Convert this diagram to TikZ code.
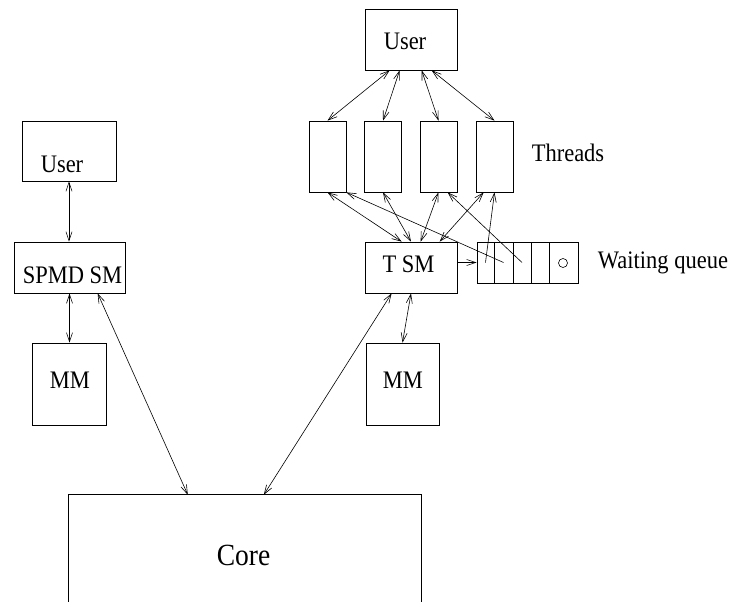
\documentclass[tikz,border=0pt]{standalone}
\usepackage{fontspec}
\setmainfont{Liberation Serif}
\usepackage{graphicx}
\usetikzlibrary{arrows.meta}
\newcommand\vstretch[1]{\scalebox{1}[1.12]{#1}}
\begin{document}
\begin{tikzpicture}[x=1pt,y=-1pt,
  box/.style args={#1/#2}{draw,line width=0.7pt,inner sep=0pt,minimum width=#1pt,minimum height=#2pt},
  >={Straight Barb[length=9pt,width=6pt]},
  bi/.style={line width=0.6pt,<->},
  one/.style={line width=0.6pt,->},
  lbl/.style={anchor=base,inner sep=0pt,font=\rmfamily\fontsize{22.5}{27}\selectfont},
  biglbl/.style={anchor=base,inner sep=0pt,font=\rmfamily\fontsize{27.5}{33}\selectfont}]
\useasboundingbox (0,0) rectangle (729,602);
% right column
\node[box=92/61] (U2) at (411,39.5) {};
\node[box=37/71] (T1) at (327.5,156.5) {};
\node[box=37/71] (T2) at (383,156.5) {};
\node[box=37/71] (T3) at (438.5,156.5) {};
\node[box=37/71] (T4) at (494.5,156.5) {};
\node[box=92/51] (TS) at (411,267.5) {};
\node[box=73/82] (MM2) at (402.5,384) {};
% waiting queue cells
\node[box=17/41] (C1) at (485.5,262.5) {};
\node[box=19/41] (C2) at (503.5,262.5) {};
\node[box=18/41] (C3) at (522,262.5) {};
\node[box=18/41] (C4) at (540,262.5) {};
\node[box=29/41] (C5) at (563.5,262.5) {};
\node[circle,draw,line width=0.6pt,minimum size=9pt,inner sep=0pt] (O) at (563,263) {};
% left column
\node[box=94/60] (U1) at (69,151) {};
\node[box=111/51] (SP) at (69.5,267.5) {};
\node[box=74/82] (MM1) at (69,384) {};
% core
\node[inner sep=0pt,minimum width=352pt,minimum height=107pt] (Core) at (245,548.5) {};
\draw[line width=0.7pt] (Core.south west) |- (Core.north east) -- (Core.south east);
% labels
\node[lbl] (tU2) at (405,50) {\vstretch{User}};
\node[lbl] (tU1) at (62,172) {\vstretch{User}};
\node[lbl] (tSP) at (72.5,283) {\vstretch{SPMD SM}};
\node[lbl] (tMM1) at (70,388) {\vstretch{MM}};
\node[lbl] (tMM2) at (403,388) {\vstretch{MM}};
\node[lbl] (tTS) at (408.5,272) {\vstretch{T SM}};
\node[lbl] (tTh) at (568,161.5) {\vstretch{Threads}};
\node[lbl] (tWQ) at (663,268) {\vstretch{Waiting queue}};
\node[biglbl] (tCore) at (243.5,565) {\vstretch{Core}};
% connectors
\draw[bi] ([xshift=25pt]U2.south west) -- (T1.north);
\draw[bi] ([xshift=35pt]U2.south west) -- (T2.north);
\draw[bi] ([xshift=57pt]U2.south west) -- (T3.north);
\draw[bi] ([xshift=67pt]U2.south west) -- (T4.north);
\draw[bi] (T1.south) -- ([xshift=37pt]TS.north west);
\draw[bi] (T2.south) -- (TS.north);
\draw[bi] (T3.south) -- ([xshift=56pt]TS.north west);
\draw[bi] ([xshift=8pt]T4.south west) -- ([xshift=75pt]TS.north west);
\draw[one] (C1.center) -- (T4.south);
\draw[one] (C2.center) -- (T1.south east);
\draw[one] (C3.center) -- ([xshift=28pt]T3.south west);
\draw[one] ([yshift=5pt]TS.east) -- (C1.west);
\draw[bi] (U1.south) -- (U1.south |- SP.north);
\draw[bi] (SP.south) -- (SP.south |- MM1.north);
\draw[bi] ([xshift=84pt]SP.south west) -- ([xshift=119pt]Core.north west);
\draw[bi] ([xshift=27pt]TS.south west) -- ([xshift=195pt]Core.north west);
\draw[bi] (TS.south) -- (MM2.north);
\end{tikzpicture}
\end{document}
